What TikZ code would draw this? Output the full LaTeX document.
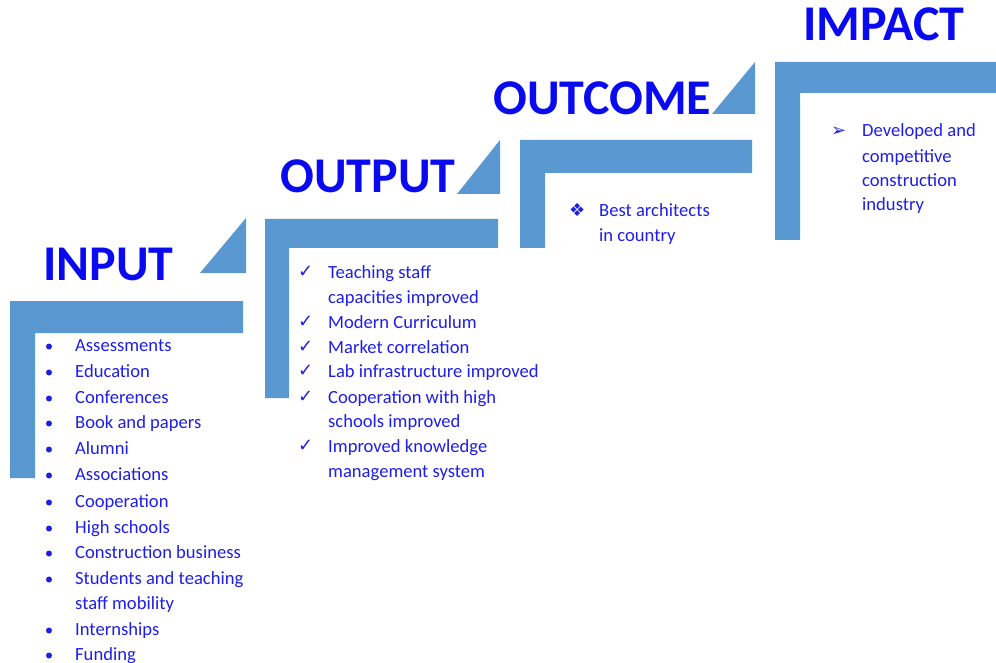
\documentclass[tikz,border=0pt]{standalone}
\usepackage{fontspec}
\setmainfont{Carlito}
\newfontfamily\symfont{DejaVu Sans}
\definecolor{barblue}{RGB}{90,152,210}
\definecolor{headblue}{RGB}{10,10,240}
\definecolor{txtblue}{RGB}{30,30,230}
\tikzset{
  bar/.style={fill=barblue, draw=none},
  head/.style={font=\bfseries\fontsize{50}{50}\selectfont, text=headblue, anchor=base west, inner sep=0pt},
  item/.style={font=\fontsize{18.6}{20}\selectfont, text=txtblue, anchor=base west, inner sep=0pt},
  sym/.style={font=\symfont\fontsize{18}{18}\selectfont, text=txtblue, anchor=base west, inner sep=0pt},
  bul/.style={circle, fill=txtblue, inner sep=0pt, minimum size=6pt}
}
\begin{document}
\begin{tikzpicture}[x=1pt,y=-1pt]
\useasboundingbox (0,0) rectangle (996,663);
% brackets
\fill[bar] (10,301) -- (243,301) -- (243,333) -- (35,333) -- (35,478) -- (10,478) -- cycle;
\fill[bar] (265,219) -- (498,219) -- (498,248) -- (289,248) -- (289,398) -- (265,398) -- cycle;
\fill[bar] (520,140) -- (752,140) -- (752,173) -- (545,173) -- (545,248) -- (520,248) -- cycle;
\fill[bar] (775,62) -- (996,62) -- (996,93) -- (800,93) -- (800,240) -- (775,240) -- cycle;
% triangles
\fill[bar] (200,273) -- (246,273) -- (246,218) -- cycle;
\fill[bar] (457,194) -- (500,194) -- (500,140) -- cycle;
\fill[bar] (712,114) -- (755,114) -- (755,62) -- cycle;
% headings
\node[head] (hin) at (43,280) {INPUT};
\node[head] (hout) at (280,193) {OUTPUT};
\node[head] (hoc) at (493,115) {OUTCOME};
\node[head] (him) at (803,41) {IMPACT};
% INPUT list
\foreach \y/\t [count=\i] in {345/Assessments, 371/Education, 397/Conferences, 422/Book and papers, 448/Alumni, 474/Associations, 501/Cooperation, 527/High schools, 552/Construction business, 578/Students and teaching, 629/Internships, 654/Funding}{
  \node[bul] (inb\i) at (49,\y+1.5) {};
  \node[item] (in\i) at (75,\y+6) {\t};
}
\node[item] (inx) at (75,609) {staff mobility};
% OUTPUT list
\foreach \y in {272,322,347,371,397,446}{
  \node[sym] (ck\y) at (298,\y+5) {✓};
}
\foreach \y/\t [count=\i] in {272/Teaching staff, 297/capacities improved, 322/Modern Curriculum, 347/Market correlation, 371/Lab infrastructure improved, 397/Cooperation with high, 421/schools improved, 446/Improved knowledge, 471/management system}{
  \node[item] (out\i) at (328,\y+6) {\t};
}
% OUTCOME
\node[sym] (dia) at (569,217) {❖};
\node[item] (oc1) at (599,217) {Best architects};
\node[item] (oc2) at (599,242) {in country};
% IMPACT
\node[sym] (arr) at (831,137) {➢};
\foreach \y/\t [count=\i] in {131/Developed and, 157/competitive, 181/construction, 205/industry}{
  \node[item] (im\i) at (862,\y+6) {\t};
}
\end{tikzpicture}
\end{document}
